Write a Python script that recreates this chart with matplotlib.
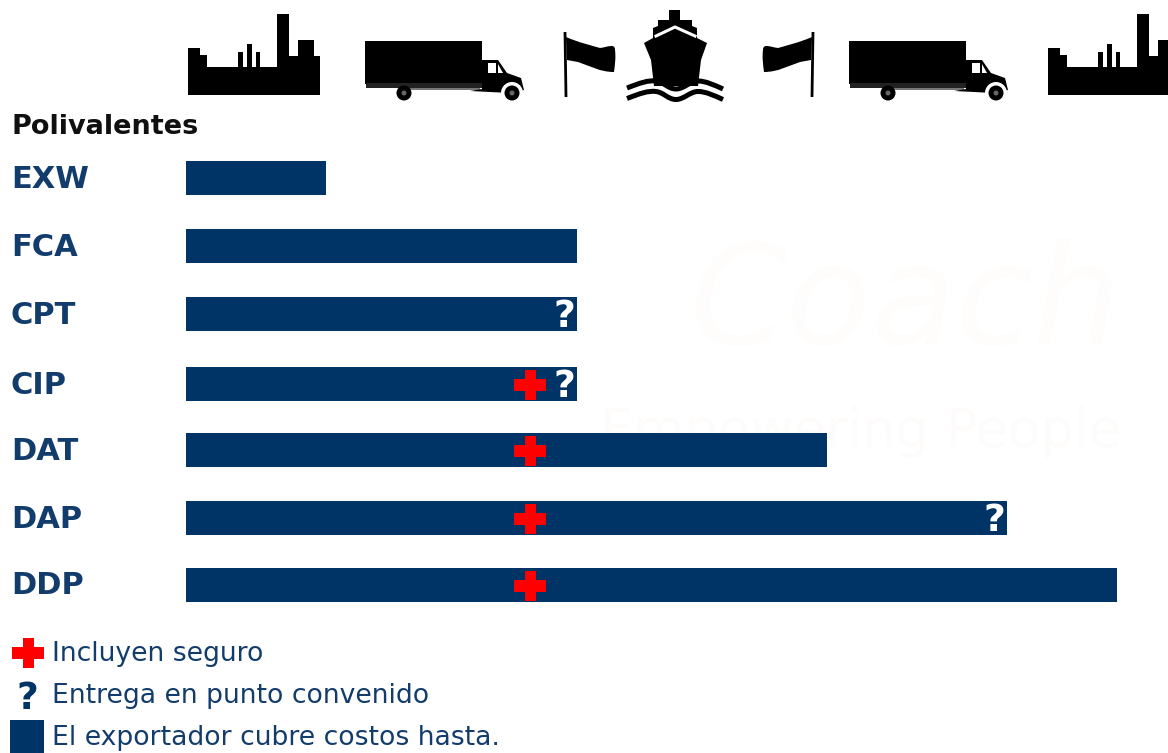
import matplotlib
matplotlib.use('Agg')
import matplotlib.pyplot as plt
from matplotlib.patches import Polygon, Rectangle, Circle, Wedge, PathPatch
from matplotlib.path import Path

# datos de la grafica (en pixeles de la imagen)
terms = ['EXW', 'FCA', 'CPT', 'CIP', 'DAT', 'DAP', 'DDP']
bar_end = [326, 577, 577, 577, 827, 1007, 1117]
bar_y = [178, 246, 314, 384, 450, 518, 585]
has_plus = [False, False, False, True, True, True, True]
has_question = [False, False, True, True, False, True, False]
legend_labels = ['Incluyen seguro', 'Entrega en punto convenido', 'El exportador cubre costos hasta.']
legend_y = [654, 696, 738]

bar_start = 186
navy = '#003366'
text_navy = '#123c6c'

plt.rcParams['font.family'] = 'DejaVu Sans'
fig = plt.figure(figsize=(11.68, 7.53), dpi=100)
ax = fig.add_axes([0, 0, 1, 1])
ax.set_xlim(0, 1168)
ax.set_ylim(753, 0)
ax.axis('off')


def factory(dx):
    pts = [(188, 95), (188, 48), (200, 48), (200, 55), (207, 55), (207, 67), (238, 67), (238, 52), (243, 52),
           (243, 67), (247, 67), (247, 44), (252, 44), (252, 67), (256, 67), (256, 52), (260, 52), (260, 67),
           (277, 67), (277, 14), (289, 14), (289, 56), (298, 56), (298, 40), (314, 40), (314, 56), (320, 56),
           (320, 95)]
    ax.add_patch(Polygon([(x + dx, y) for x, y in pts], fc='black', ec='none'))


def truck(dx):
    ax.add_patch(Rectangle((365 + dx, 41), 117, 43, fc='black', ec='none'))
    ax.add_patch(Rectangle((366 + dx, 83), 130, 5, fc='#222222', ec='none'))
    ax.add_patch(Rectangle((400 + dx, 88), 80, 2, fc='#777777', ec='none'))
    cab = [(482, 89), (482, 60), (498, 60), (507, 73), (521, 78), (524, 90), (510, 93), (470, 91)]
    ax.add_patch(Polygon([(x + dx, y) for x, y in cab], fc='black', ec='none'))
    ax.add_patch(Rectangle((488 + dx, 63), 8, 10, fc='white', ec='none'))
    ax.add_patch(Polygon([(498 + dx, 64), (503 + dx, 73), (498 + dx, 73)], fc='white', ec='none'))
    # rueda trasera y delantera
    ax.add_patch(Circle((404 + dx, 93), 7.5, fc='black', ec='none'))
    ax.add_patch(Circle((404 + dx, 93), 2.5, fc='#666666', ec='none'))
    ax.add_patch(Wedge((512 + dx, 93), 11, 180, 360, fc='white', ec='none'))
    ax.add_patch(Circle((512 + dx, 93), 7.5, fc='black', ec='none'))
    ax.add_patch(Circle((512 + dx, 93), 2.5, fc='#666666', ec='none'))


def flag(mirror):
    fx = (lambda x: 1378 - x) if mirror else (lambda x: x)
    ax.plot([fx(565), fx(566)], [32, 97], color='black', lw=2, solid_capstyle='butt')
    verts = [(566, 37), (580, 43), (590, 45), (600, 48), (608, 47), (615, 43), (615, 50), (616, 58), (615, 64),
             (614, 72), (600, 72), (590, 66), (578, 62), (567, 60), (566, 37)]
    codes = [Path.MOVETO] + [Path.CURVE4] * 12 + [Path.LINETO, Path.CLOSEPOLY]
    ax.add_patch(PathPatch(Path([(fx(x), y) for x, y in verts], codes), fc='black', ec='none'))


factory(0)
factory(860)
truck(0)
truck(484)
flag(False)
flag(True)

# barco
hull = [(669, 10), (680, 10), (680, 20), (692, 20), (692, 26), (697, 28), (697, 38), (707, 43), (701, 60),
        (698, 86), (654, 86), (651, 60), (644, 43), (653, 38), (653, 28), (658, 26), (658, 20), (669, 20)]
ax.add_patch(Polygon(hull, fc='black', ec='none'))
ax.plot([656, 675, 695], [36, 27, 36], color='white', lw=2.2)
for off in [0, 10.5]:
    wave = Path([(627, 88 + off), (640, 83 + off), (648, 80 + off), (656, 81 + off),
                 (664, 82 + off), (668, 89 + off), (676, 89 + off),
                 (684, 89 + off), (690, 81 + off), (698, 81 + off),
                 (706, 81 + off), (714, 85 + off), (723, 89 + off)],
                [Path.MOVETO] + [Path.CURVE4] * 12)
    ax.add_patch(PathPatch(wave, fc='none', ec='black', lw=3.6))
    if off == 0:
        # franja blanca entre casco y olas
        ax.add_patch(PathPatch(wave, fc='none', ec='white', lw=0.01))

# marca de agua
ax.text(905, 305, 'Coach', fontsize=100, style='italic', color='#fefdfc', ha='center', va='center', zorder=0)
ax.text(860, 432, 'Empowering People', fontsize=38, color='#fefcfa', ha='center', va='center', zorder=0)

ax.text(12, 127, 'Polivalentes', fontsize=19.5, fontweight='bold', color='#101010', va='center')


def plus(cx, cy, col='#ff0000'):
    ax.add_patch(Rectangle((cx - 16, cy - 6), 32, 12, fc=col, ec='none', zorder=4))
    ax.add_patch(Rectangle((cx - 5.5, cy - 15), 11, 30, fc=col, ec='none', zorder=4))


for name, end, y, p, q in zip(terms, bar_end, bar_y, has_plus, has_question):
    ax.barh(y, end - bar_start, height=34, left=bar_start, color=navy, zorder=2)
    ax.text(11, y + 1, name, fontsize=22, fontweight='bold', color=text_navy, va='center')
    if p:
        plus(530, y + 0.5)
    if q:
        ax.text(end - 13, y + 3, '?', fontsize=27, fontweight='bold', color='white', ha='center', va='center', zorder=5)

# leyenda
plus(28, legend_y[0] - 1)
ax.text(27, legend_y[1] + 3, '?', fontsize=27, fontweight='bold', color=navy, ha='center', va='center')
ax.add_patch(Rectangle((10, 720), 34, 33, fc=navy, ec='none'))
for label, y in zip(legend_labels, legend_y):
    ax.text(52, y, label, fontsize=19.2, color=text_navy, va='center')

fig.savefig('out.png', dpi=100)
